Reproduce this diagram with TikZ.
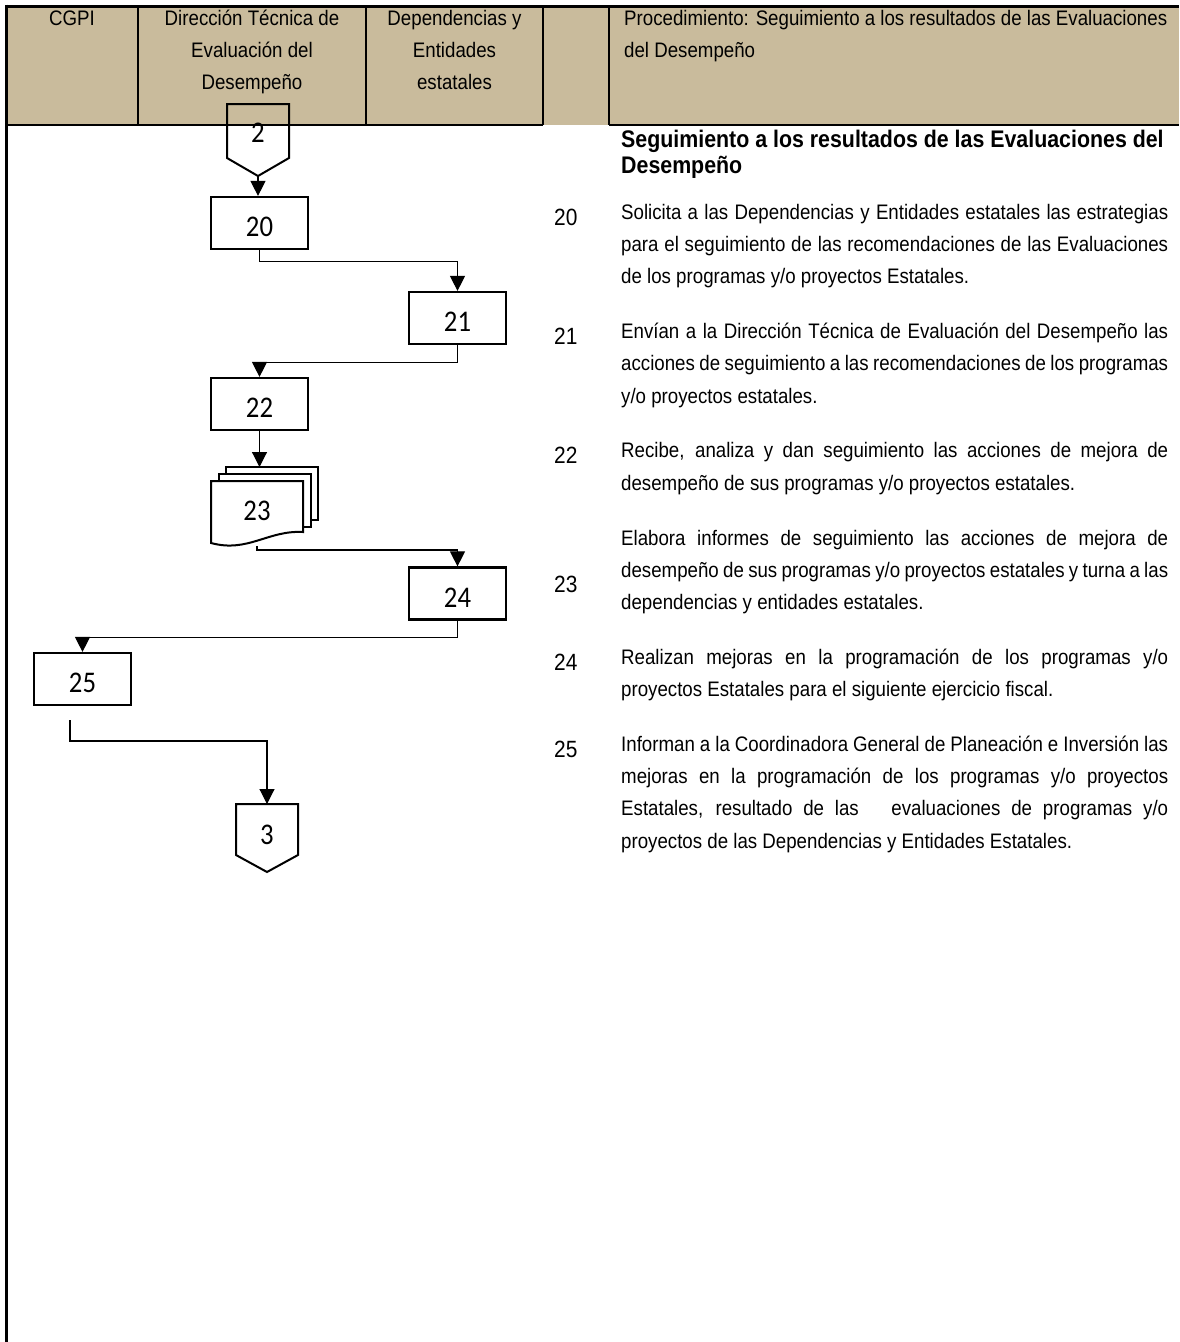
\documentclass[tikz,border=0pt]{standalone}
\usepackage{fontspec}
\setmainfont{Liberation Sans}[FakeStretch=0.89]
\newfontfamily\boxfont{Carlito}[FakeStretch=0.89]
\usetikzlibrary{arrows.meta}
\definecolor{headtan}{HTML}{C9BB9C}
\newcommand\jl[1]{\makebox[547pt][s]{#1}}
\begin{document}
\begin{tikzpicture}[x=1pt,y=-1pt,
  boxst/.style={draw, line width=2.2pt, minimum width=97pt, minimum height=52pt, inner sep=0pt,
    text height=27pt, text depth=0pt,
    font=\boxfont\fontsize{30}{30}\selectfont, fill=white},
  numlab/.style={inner sep=0pt, font=\boxfont\fontsize{30}{30}\selectfont},
  conn/.style={line width=1.1pt},
  arr/.style={conn, -{Triangle[length=15pt,width=15pt]}},
  txt/.style={anchor=base west, inner sep=0pt, font=\fontsize{21}{25}\selectfont},
  numst/.style={anchor=base west, inner sep=0pt, font=\fontsize{23.5}{25}\selectfont},
  hdc/.style={anchor=base, inner sep=0pt, font=\fontsize{21}{25}\selectfont},
  ttl/.style={anchor=base west, inner sep=0pt, font=\bfseries\fontsize{24}{28}\selectfont},
  sheet/.style={draw, fill=white, line width=2pt},
  offpage/.style={draw, line width=2pt, line join=miter}
]
\useasboundingbox (0,0) rectangle (1179,1342);
% header
\fill[headtan] (6,6) rectangle (1179,125);
\draw[line width=2.2pt] (6,125) -- (543,125);
\draw[line width=2.2pt] (609,125) -- (1179,125);
\foreach \xx in {138,366,543,609} \draw[line width=2pt] (\xx,6) -- (\xx,125);
\draw[line width=3pt] (6,6) -- (1179,6);
\draw[line width=3pt] (6,4.5) -- (6,1342);
\node[hdc] (h1) at (72,25) {CGPI};
\node[hdc] (h2a) at (252,25) {Dirección Técnica de};
\node[hdc] (h2b) at (252,57) {Evaluación del};
\node[hdc] (h2c) at (252,89) {Desempeño};
\node[hdc] (h3a) at (454.5,25) {Dependencias y};
\node[hdc] (h3b) at (454.5,57) {Entidades};
\node[hdc] (h3c) at (454.5,89) {estatales};
\node[txt] (h5a) at (624,25) {Procedimiento: Seguimiento a los resultados de las Evaluaciones};
\node[txt] (h5b) at (624,57) {del Desempeño};

% off-page connector 2
\draw[offpage] (227,104) -- (289,104) -- (289,158) -- (258,176) -- (227,158) -- cycle;
\node[numlab] (c2) at (258,133) {2};
\coordinate (c2tip) at (258,176);

% boxes
\node[boxst] (b20) at (259.5,223) {20};
\node[boxst] (b21) at (457.5,318) {21};
\node[boxst] (b22) at (259.5,404) {22};
\node[boxst] (b24) at (457.5,593.5) {24};
\node[boxst] (b25) at (82.5,679) {25};

% multi-document 23
\draw[sheet] (226,467) rectangle (318,520);
\draw[sheet] (219,474) rectangle (311,527);
\draw[sheet] (211,481) -- (303,481) -- (303,532) .. controls (268,530) and (248,553) .. (211,543) -- cycle;
\node[numlab] (d23) at (257,511) {23};
\coordinate (d23top) at (256,467);
\coordinate (d23bot) at (257,546);

% off-page connector 3
\draw[offpage] (236,804) -- (298,804) -- (298,855) -- (267,872) -- (236,855) -- cycle;
\node[numlab] (c3) at (267,835) {3};
\coordinate (c3top) at (267,804);
\coordinate (f25) at (70,720);

% connectors
\draw[arr] (c2tip) -- (c2tip |- b20.north);
\draw[arr] (b20.south) -- ++(0,11) -| (b21.north);
\draw[arr] (b21.south) -- ++(0,17) -| (b22.north);
\draw[arr] (b22.south) -- (b22.south |- d23top);
\draw[arr] (d23bot) -- ++(0,4) -| (b24.north);
\draw[arr] (b24.south) -- ++(0,17) -| (b25.north);
\draw[arr] (f25) -- ++(0,21) -| (c3top);

% right column text
\node[ttl] (t0a) at (621,147) {Seguimiento a los resultados de las Evaluaciones del};
\node[ttl] (t0b) at (621,173) {Desempeño};

\node[numst] (n20) at (554,225) {20};
\node[txt] (t20a) at (621,219) {\jl{Solicita a las Dependencias y Entidades estatales las estrategias}};
\node[txt] (t20b) at (621,251) {\jl{para el seguimiento de las recomendaciones de las Evaluaciones}};
\node[txt] (t20c) at (621,283) {de los programas y/o proyectos Estatales.};

\node[numst] (n21) at (554,344) {21};
\node[txt] (t21a) at (621,338) {\jl{Envían a la Dirección Técnica de Evaluación del Desempeño las}};
\node[txt] (t21b) at (621,370) {\jl{acciones de seguimiento a las recomendaciones de los programas}};
\node[txt] (t21c) at (621,403) {y/o proyectos estatales.};

\node[numst] (n22) at (554,463) {22};
\node[txt] (t22a) at (621,457) {\jl{Recibe, analiza y dan seguimiento las acciones de mejora de}};
\node[txt] (t22b) at (621,490) {desempeño de sus programas y/o proyectos estatales.};

\node[numst] (n23) at (554,592) {23};
\node[txt] (t23a) at (621,545) {\jl{Elabora informes de seguimiento las acciones de mejora de}};
\node[txt] (t23b) at (621,577) {\jl{desempeño de sus programas y/o proyectos estatales y turna a las}};
\node[txt] (t23c) at (621,609) {dependencias y entidades estatales.};

\node[numst] (n24) at (554,670) {24};
\node[txt] (t24a) at (621,664) {\jl{Realizan mejoras en la programación de los programas y/o}};
\node[txt] (t24b) at (621,696) {proyectos Estatales para el siguiente ejercicio fiscal.};

\node[numst] (n25) at (554,757) {25};
\node[txt] (t25a) at (621,751) {\jl{Informan a la Coordinadora General de Planeación e Inversión las}};
\node[txt] (t25b) at (621,783) {\jl{mejoras en la programación de los programas y/o proyectos}};
\node[txt] (t25c) at (621,815) {\jl{Estatales, resultado de las\ \ \ evaluaciones de programas y/o}};
\node[txt] (t25d) at (621,848) {proyectos de las Dependencias y Entidades Estatales.};
\end{tikzpicture}
\end{document}
